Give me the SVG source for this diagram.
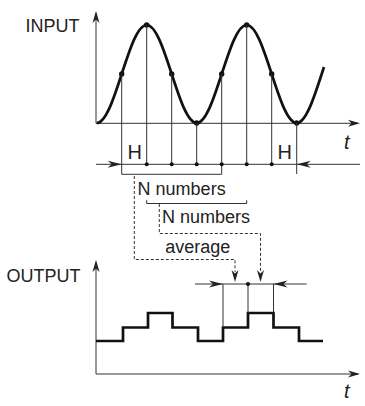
<svg xmlns="http://www.w3.org/2000/svg" width="365" height="406" viewBox="0 0 365 406">
<style>
.thin{fill:none;stroke:#333;stroke-width:1}
.thick{fill:none;stroke:#111;stroke-width:2.7;stroke-linejoin:miter}
.dash{fill:none;stroke:#333;stroke-width:1;stroke-dasharray:3,2}
.lbl{font-family:"Liberation Sans",Arial,sans-serif;font-size:18px;fill:#222}
.h{font-size:20px}
.t{font-family:"Liberation Sans",Arial,sans-serif;font-size:20px;font-style:italic;fill:#222}
.ah{fill:#222}
.dot{fill:#111}
</style>
<defs>
<path id="arr" d="M0,0 L-14,-3.5 L-10,0 L-14,3.5 Z"/>
<path id="arrs" d="M0,0 L-12,-3.5 L-8.5,0 L-12,3.5 Z"/>
</defs>

<g id="input-axes">
<path class="thin" d="M96,13 V123.3 H358"/>
<use href="#arrs" class="ah" transform="translate(96,11) rotate(-90)"/>
<use href="#arrs" class="ah" transform="translate(360,123.3)"/>
<text class="lbl" x="25.6" y="31.5">INPUT</text>
<text class="t" x="344" y="149">t</text>
</g>

<g id="input-curve">
<path class="thick" d="M96.7,123 C105.75,123 113.55,99.1 121.7,74 C129.85,48.9 137.65,25 146.7,25 C155.75,25 163.55,48.9 171.7,74 C179.85,99.1 187.65,123 196.7,123 C205.75,123 213.55,99.1 221.7,74 C229.85,48.9 237.65,25 246.7,25 C255.75,25 263.55,48.9 271.7,74 C279.85,99.1 287.65,123 296.7,123 C305.75,123 313.55,99.1 321.7,74 L324,67"/>
<g class="dot">
<circle cx="121.7" cy="74" r="2.7"/>
<circle cx="146.7" cy="25" r="2.7"/>
<circle cx="171.7" cy="74" r="2.7"/>
<circle cx="196.7" cy="123" r="2.7"/>
<circle cx="221.7" cy="74" r="2.7"/>
<circle cx="246.7" cy="25" r="2.7"/>
<circle cx="271.7" cy="74" r="2.7"/>
<circle cx="296.7" cy="123" r="2.7"/>
</g>
</g>

<g id="sampling">
<path class="thin" d="M121.7,74 V174.3 M146.7,25 V164.3 M171.7,74 V164.3 M196.7,123 V164.3 M221.7,74 V174.3 M246.7,25 V164.3 M271.7,74 V164.3 M296.7,123 V174"/>
<path class="thin" d="M96,164.3 H360"/>
<use href="#arr" class="ah" transform="translate(121.7,164.3)"/>
<use href="#arr" class="ah" transform="translate(296.7,164.3) rotate(180)"/>
<g class="dot">
<circle cx="146.7" cy="164.3" r="2"/>
<circle cx="171.7" cy="164.3" r="2"/>
<circle cx="196.7" cy="164.3" r="2"/>
<circle cx="221.7" cy="164.3" r="2"/>
<circle cx="246.7" cy="164.3" r="2"/>
<circle cx="271.7" cy="164.3" r="2"/>
</g>
<text class="lbl h" x="127.4" y="159">H</text>
<text class="lbl h" x="277.4" y="159">H</text>
</g>

<g id="brackets">
<path class="thin" d="M121.7,174.3 H221.7"/>
<path class="thin" d="M146.7,200.3 V203.5 H246.7 V200.3"/>
<text class="lbl" x="137.6" y="195">N numbers</text>
<text class="lbl" x="162" y="222.7">N numbers</text>
<text class="lbl" x="165.3" y="252.7">average</text>
</g>

<g id="connectors">
<path class="dash" d="M134.3,176 V259.5 H235 V272"/>
<path class="dash" d="M159.3,204 V233.5 H260.5 V272"/>
<use href="#arrs" class="ah" transform="translate(235,282) rotate(90)"/>
<use href="#arrs" class="ah" transform="translate(260.5,282) rotate(90)"/>
</g>

<g id="output-axes">
<path class="thin" d="M96,262 V374 H358"/>
<use href="#arrs" class="ah" transform="translate(96,260) rotate(-90)"/>
<use href="#arrs" class="ah" transform="translate(360,374)"/>
<text class="lbl" x="6.5" y="281.7">OUTPUT</text>
<text class="t" x="344" y="398">t</text>
</g>

<g id="output-steps">
<path class="thick" d="M96,341 H123 V327.5 H148 V313 H172.5 V327.5 H198 V341 H223 V327.5 H248 V313 H273.5 V327.5 H299 V341 H323"/>
<path class="thin" d="M195,284 H306.5 M223,284 V327.5 M248,284 V313 M273.5,284 V313"/>
<use href="#arr" class="ah" transform="translate(223,284)"/>
<use href="#arr" class="ah" transform="translate(273.5,284) rotate(180)"/>
<circle class="dot" cx="248" cy="284" r="2"/>
</g>
</svg>
